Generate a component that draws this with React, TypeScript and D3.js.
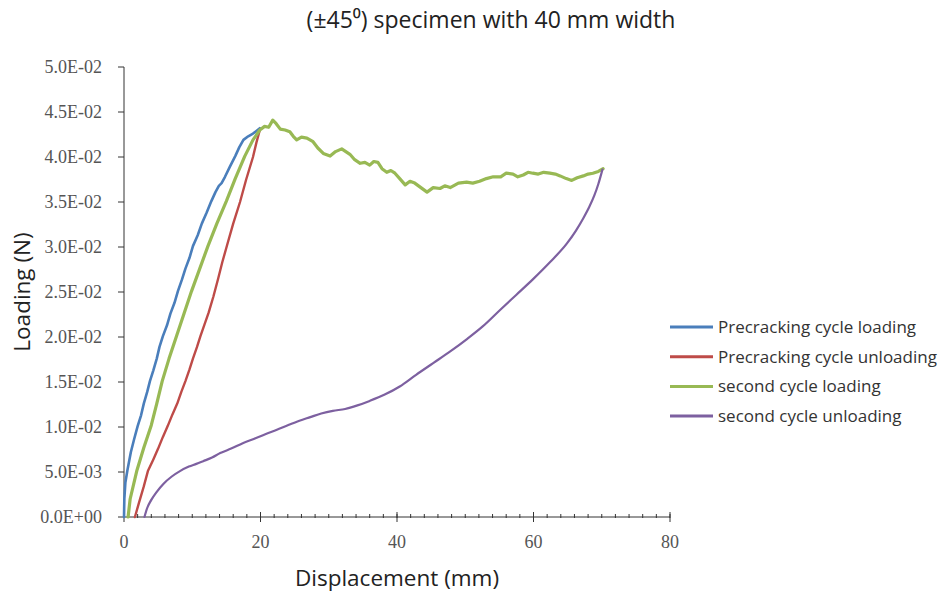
import React from "react";
import * as d3 from "d3";

const title = "(±45⁰) specimen with 40 mm width";
const xLabel = "Displacement (mm)";
const yLabel = "Loading (N)";
const xTicks = [0, 20, 40, 60, 80];
const xMinorTicks = d3.range(0, 81, 2);
const yTicks = [0, 0.005, 0.01, 0.015, 0.02, 0.025, 0.03, 0.035, 0.04, 0.045, 0.05];
const yTickLabels = ["0.0E+00", "5.0E-03", "1.0E-02", "1.5E-02", "2.0E-02", "2.5E-02", "3.0E-02", "3.5E-02", "4.0E-02", "4.5E-02", "5.0E-02"];

const seriesNames = ["Precracking cycle loading", "Precracking cycle unloading", "second cycle loading", "second cycle unloading"];
const seriesColors = ["#4A7EBB", "#BE4B48", "#98B954", "#7D60A0"];

// [displacement mm, load N]
const precrackLoading: [number, number][] = [
  [0, 0], [0.05, 0.002], [0.2, 0.0038], [0.5, 0.0052], [1.0, 0.0072], [1.5, 0.0087], [2.0, 0.0101],
  [2.5, 0.0113], [2.9, 0.0126], [3.4, 0.0139], [3.8, 0.0151], [4.3, 0.0163], [4.8, 0.0176], [5.2, 0.0189],
  [5.7, 0.0201], [6.3, 0.0213], [6.8, 0.0226], [7.4, 0.0238], [7.9, 0.0251], [8.5, 0.0264], [9.0, 0.0276],
  [9.6, 0.0288], [10.1, 0.0301], [10.8, 0.0313], [11.4, 0.0326], [12.1, 0.0338], [12.8, 0.0351], [13.4, 0.0361],
  [13.9, 0.0368], [14.3, 0.0371], [14.8, 0.0378], [15.5, 0.0389], [16.3, 0.0401], [16.9, 0.0411], [17.5, 0.0419],
  [18.2, 0.0423], [18.9, 0.0426], [19.4, 0.0429], [19.9, 0.0432],
];

const precrackUnloading: [number, number][] = [
  [1.6, 0], [2.2, 0.0016], [2.9, 0.0034], [3.5, 0.0051], [4.3, 0.0064], [5.0, 0.0076], [5.7, 0.0089],
  [6.4, 0.0101], [7.1, 0.0114], [7.8, 0.0126], [8.4, 0.0139], [9.0, 0.0151], [9.6, 0.0164], [10.1, 0.0176],
  [10.7, 0.0189], [11.2, 0.0201], [11.8, 0.0214], [12.4, 0.0227], [13.1, 0.0245], [13.8, 0.0265], [14.4, 0.0283],
  [15.1, 0.0302], [16.0, 0.0326], [17.0, 0.0350], [17.9, 0.0375], [18.9, 0.0400], [19.4, 0.0416], [19.9, 0.043],
];

const secondLoading: [number, number][] = [
  [0.6, 0], [0.9, 0.002], [1.9, 0.0052], [2.9, 0.0077], [4.0, 0.0102], [4.8, 0.0126], [5.6, 0.0151],
  [6.6, 0.0176], [7.7, 0.0201], [8.8, 0.0226], [9.9, 0.0251], [11.1, 0.0276], [12.3, 0.0301], [13.6, 0.0326],
  [15.0, 0.0351], [16.3, 0.0376], [17.7, 0.0401], [18.9, 0.0419], [19.9, 0.043], [20.6, 0.0434],
  [21.2, 0.0433], [21.8, 0.0441], [22.3, 0.0437], [22.9, 0.0431], [23.6, 0.043], [24.3, 0.0428], [24.8, 0.0423],
  [25.3, 0.0419], [26.0, 0.0422], [26.8, 0.0421], [27.7, 0.0417], [28.4, 0.041], [29.2, 0.0404], [30.2, 0.0401],
  [31.0, 0.0406], [31.9, 0.0409], [32.5, 0.0406], [33.1, 0.0403], [33.8, 0.0397], [34.6, 0.0393], [35.3, 0.0394],
  [36.0, 0.0391], [36.6, 0.0395], [37.2, 0.0394], [37.8, 0.0387], [38.5, 0.0383], [39.1, 0.0385], [39.7, 0.0382],
  [40.4, 0.0376], [41.2, 0.0369], [41.9, 0.0373], [42.6, 0.0371], [43.5, 0.0366], [44.4, 0.0361], [45.3, 0.0366],
  [46.3, 0.0365], [47.0, 0.0368], [47.8, 0.0366], [49.0, 0.0371], [50.2, 0.0372], [51.1, 0.0371], [52.1, 0.0373],
  [53.1, 0.0376], [54.1, 0.0378], [55.2, 0.0378], [56.0, 0.0382], [57.0, 0.0381], [57.7, 0.0378], [58.5, 0.038],
  [59.2, 0.0383], [59.9, 0.0382], [60.7, 0.0381], [61.5, 0.0383], [62.4, 0.0382], [63.2, 0.0381], [63.9, 0.0379],
  [64.8, 0.0376], [65.6, 0.0374], [66.4, 0.0377], [67.3, 0.0379], [68.0, 0.0381], [68.7, 0.0382], [69.5, 0.0384],
  [70.2, 0.0387],
];

const secondUnloading: [number, number][] = [
  [3.0, 0], [3.4, 0.001], [4.0, 0.0019], [4.8, 0.0028], [5.8, 0.0037], [7.0, 0.0045], [8.2, 0.0051],
  [9.5, 0.0056], [10.6, 0.0059], [11.6, 0.0062], [12.9, 0.0066], [14.1, 0.0071], [15.7, 0.0076], [17.4, 0.0082],
  [19.1, 0.0087], [20.7, 0.0092], [22.4, 0.0097], [24.0, 0.0102], [25.7, 0.0107], [27.3, 0.0111], [28.9, 0.0115],
  [30.6, 0.0118], [32.4, 0.0120], [34.2, 0.0124], [36.0, 0.0129], [38.2, 0.0136], [40.4, 0.0145], [42.8, 0.0158],
  [45.3, 0.0171], [47.8, 0.0184], [50.3, 0.0198], [52.6, 0.0212], [55.1, 0.0230], [57.5, 0.0247],
  [59.9, 0.0264], [62.4, 0.0283], [64.9, 0.0304], [66.2, 0.0318], [67.3, 0.0332], [68.2, 0.0345], [68.9, 0.0357],
  [69.5, 0.0370], [70.1, 0.0386],
];

const allSeries = [precrackLoading, precrackUnloading, secondLoading, secondUnloading];
const seriesWidths = [2.6, 2.4, 3.2, 2.2];

const W = 941;
const H = 593;
const M = { left: 124, right: 271, top: 67, bottom: 76 };

export default function App() {
  const x = d3.scaleLinear().domain([0, 80]).range([M.left, W - M.right]);
  const y = d3.scaleLinear().domain([0, 0.05]).range([H - M.bottom, M.top]);
  const line = d3.line<[number, number]>().x((d) => x(d[0])).y((d) => y(d[1])).curve(d3.curveLinear);
  const smooth = d3.line<[number, number]>().x((d) => x(d[0])).y((d) => y(d[1])).curve(d3.curveMonotoneX);
  const y0 = y(0);
  const tickFont = "'Liberation Serif', serif";
  const labelFont = "'Open Sans', sans-serif";

  return (
    <svg width={W} height={H} style={{ position: "absolute", left: 0, top: 0, background: "#fff" }}>
      <rect x={0} y={0} width={W} height={H} fill="#fff" />
      <text x={491} y={28} textAnchor="middle" fontFamily={labelFont} fontSize={23} fill="#222">
        {title}
      </text>

      {/* x axis */}
      <line x1={x(0)} x2={x(80)} y1={y0} y2={y0} stroke="#333" strokeWidth={1} />
      {xMinorTicks.map((t) => (
        <line key={"mx" + t} x1={x(t)} x2={x(t)} y1={y0 - 3} y2={y0 + 1} stroke="#333" strokeWidth={1} />
      ))}
      {xTicks.map((t) => (
        <g key={"x" + t}>
          <line x1={x(t)} x2={x(t)} y1={y0 - 5} y2={y0 + 5} stroke="#333" strokeWidth={1} />
          <text x={x(t)} y={y0 + 31} textAnchor="middle" fontFamily={tickFont} fontSize={18} fill="#555">
            {t}
          </text>
        </g>
      ))}

      {/* y axis */}
      <line x1={x(0)} x2={x(0)} y1={y(0)} y2={y(0.05)} stroke="#333" strokeWidth={1} />
      {yTicks.map((t, i) => (
        <g key={"y" + i}>
          <line x1={x(0) - 6} x2={x(0)} y1={y(t)} y2={y(t)} stroke="#333" strokeWidth={1} />
          <text x={x(0) - 22} y={y(t) + 6} textAnchor="end" fontFamily={tickFont} fontSize={18} fill="#555">
            {yTickLabels[i]}
          </text>
        </g>
      ))}

      <text x={397} y={586} textAnchor="middle" fontFamily={labelFont} fontSize={22.5} fill="#222">
        {xLabel}
      </text>
      <text transform={`translate(30, ${(y(0) + y(0.05)) / 2}) rotate(-90)`} textAnchor="middle" fontFamily={labelFont} fontSize={22.5} fill="#222">
        {yLabel}
      </text>

      {/* series */}
      {allSeries.map((s, i) => (
        <path key={"s" + i} d={(i === 3 ? smooth(s) : line(s)) || ""} fill="none" stroke={seriesColors[i]} strokeWidth={seriesWidths[i]} strokeLinejoin="round" strokeLinecap="round" />
      ))}

      {/* legend */}
      {seriesNames.map((n, i) => (
        <g key={"l" + i} transform={`translate(670, ${327 + i * 29.7})`}>
          <line x1={0} x2={43} y1={0} y2={0} stroke={seriesColors[i]} strokeWidth={3} />
          <text x={48} y={6} fontFamily={labelFont} fontSize={17} fill="#333">
            {n}
          </text>
        </g>
      ))}
    </svg>
  );
}
